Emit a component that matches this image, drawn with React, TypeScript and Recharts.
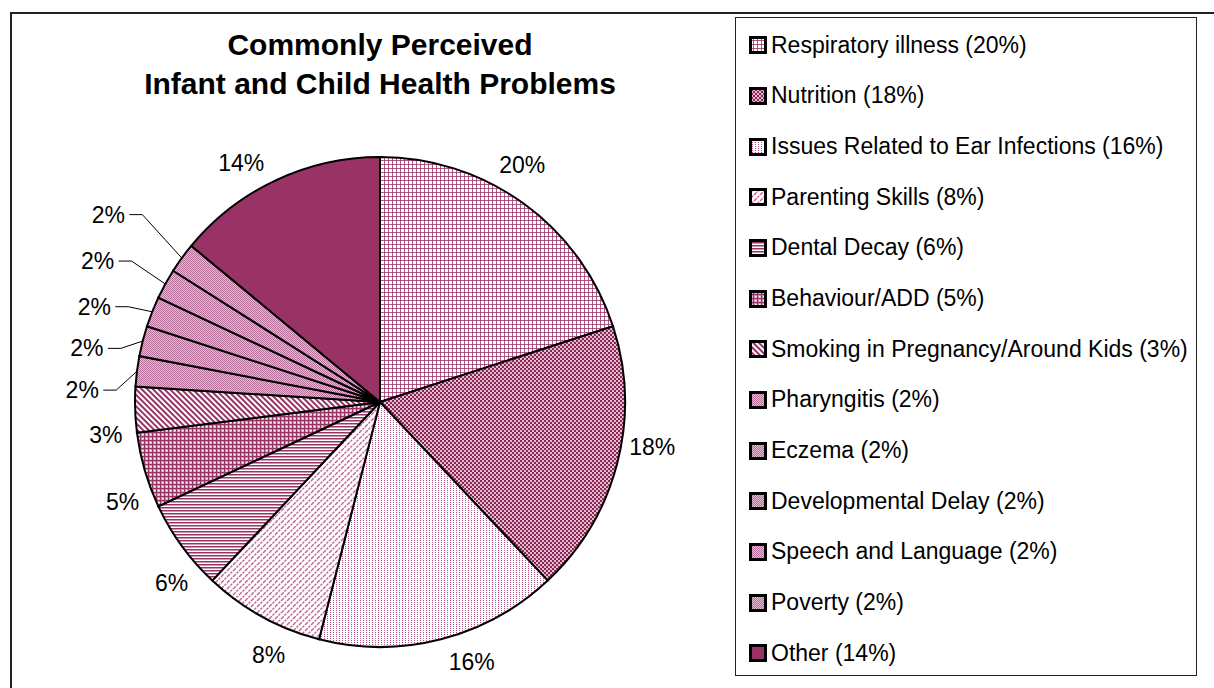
import React from "react";
import { PieChart, Pie, Cell, Legend } from "recharts";

const categories = [
  "Respiratory illness",
  "Nutrition",
  "Issues Related to Ear Infections",
  "Parenting Skills",
  "Dental Decay",
  "Behaviour/ADD",
  "Smoking in Pregnancy/Around Kids",
  "Pharyngitis",
  "Eczema",
  "Developmental Delay",
  "Speech and Language",
  "Poverty",
  "Other",
];
const shares = [20, 18, 16, 8, 6, 5, 3, 2, 2, 2, 2, 2, 14];
const fills = ["p0", "p1", "p2", "p3", "p4", "p5", "p6", "p7", "p7", "p7", "p7", "p7", "p8"];
const titleLines = ["Commonly Perceived", "Infant and Child Health Problems"];

const data = categories.map((name, i) => ({ name, value: shares[i] }));

const PLUM = "#993366";
const FONT = "'Liberation Sans', Arial, sans-serif";
const RADIAN = Math.PI / 180;

function Patterns() {
  return (
    <defs>
      <pattern id="p0" width="4" height="4" patternUnits="userSpaceOnUse">
        <rect width="4" height="4" fill="#fff" />
        <rect x="0" y="0" width="1" height="4" fill={PLUM} opacity="0.8" />
        <rect x="0" y="0" width="4" height="1" fill={PLUM} opacity="0.8" />
      </pattern>
      <pattern id="p1" width="4" height="4" patternUnits="userSpaceOnUse">
        <rect width="4" height="4" fill="#e4bcd0" />
        <rect x="0" y="0" width="2" height="2" fill="#8a2656" />
        <rect x="2" y="2" width="2" height="2" fill="#8a2656" />
      </pattern>
      <pattern id="p2" width="3" height="2" patternUnits="userSpaceOnUse">
        <rect width="3" height="2" fill="#fff" />
        <rect x="0" y="0" width="1" height="1" fill="#b04f80" />
      </pattern>
      <pattern id="p3" width="6" height="6" patternUnits="userSpaceOnUse">
        <rect width="6" height="6" fill="#fff" />
        <path d="M0,6 L6,0 M-1,1 L1,-1 M5,7 L7,5" stroke="#c0608f" strokeWidth="1.3" strokeDasharray="2.5 1" />
      </pattern>
      <pattern id="p4" width="3" height="3" patternUnits="userSpaceOnUse">
        <rect width="3" height="3" fill="#fff" />
        <rect x="0" y="0" width="3" height="1.5" fill={PLUM} />
      </pattern>
      <pattern id="p5" width="4" height="4" patternUnits="userSpaceOnUse">
        <rect width="4" height="4" fill="#c990b0" />
        <rect x="0" y="0" width="4" height="1" fill={PLUM} />
        <rect x="0" y="0" width="1" height="4" fill={PLUM} />
        <rect x="2" y="2" width="1.5" height="1.5" fill="#fff" />
      </pattern>
      <pattern id="p6" width="4" height="4" patternUnits="userSpaceOnUse" patternTransform="rotate(-45)">
        <rect width="4" height="4" fill="#fff" />
        <rect x="0" y="0" width="2" height="4" fill={PLUM} />
      </pattern>
      <pattern id="p7" width="2" height="2" patternUnits="userSpaceOnUse">
        <rect width="2" height="2" fill="#e2bcd2" />
        <rect x="0" y="0" width="1" height="1" fill="#b5709a" />
        <rect x="1" y="1" width="1" height="1" fill="#b5709a" />
      </pattern>
      <pattern id="p8" width="4" height="4" patternUnits="userSpaceOnUse">
        <rect width="4" height="4" fill={PLUM} />
      </pattern>
    </defs>
  );
}

function renderLabel(props: any) {
  const { cx, cy, midAngle, outerRadius, value, percent } = props;
  const small = percent < 0.025;
  const m = ((midAngle % 360) + 360) % 360;
  // small slices are stacked up the left side with leader lines
  const shift = small ? 1.4 + (m - 144) * 0.122 : 5;
  const rr = small ? outerRadius + 53 + Math.max(0, 160 - m) * 2 : outerRadius + 31;
  const ang = (m + shift) * RADIAN;
  const tx = cx + rr * Math.cos(ang);
  const ty = cy - rr * Math.sin(ang);
  const ex = cx + outerRadius * Math.cos(m * RADIAN);
  const ey = cy - outerRadius * Math.sin(m * RADIAN);
  return (
    <g>
      {small && (
        <polyline
          points={`${tx + 21},${ty} ${tx + 34},${ty} ${ex},${ey}`}
          fill="none"
          stroke="#000"
          strokeWidth={1}
        />
      )}
      <text
        x={tx}
        y={ty}
        textAnchor="middle"
        dominantBaseline="central"
        fontFamily={FONT}
        fontSize={23}
        fill="#000"
      >
        {`${value}%`}
      </text>
    </g>
  );
}

function renderLegend() {
  return (
    <div
      style={{
        boxSizing: "border-box",
        width: 462,
        height: 659,
        border: "1.5px solid #222",
        background: "#fff",
        paddingTop: 2,
      }}
    >
      {data.map((d, i) => (
        <div
          key={d.name}
          style={{
            display: "flex",
            alignItems: "center",
            height: 50.67,
            fontFamily: FONT,
            fontSize: 23,
            color: "#000",
            whiteSpace: "nowrap",
          }}
        >
          <svg width={18} height={18} style={{ marginLeft: 13, marginRight: 4 }}>
            <rect x={1.5} y={1.5} width={15} height={15} fill={`url(#${fills[i]})`} stroke="#000" strokeWidth={3} />
          </svg>
          <span>{`${d.name} (${d.value}%)`}</span>
        </div>
      ))}
    </div>
  );
}

export default function App() {
  return (
    <div
      style={{
        position: "fixed",
        left: 0,
        top: 0,
        width: 1214,
        height: 688,
        overflow: "hidden",
        background: "#fff",
      }}
    >
      <div
        style={{
          position: "absolute",
          left: 10,
          top: 12,
          width: 1230,
          height: 700,
          border: "2px solid #222",
          boxSizing: "border-box",
        }}
      />
      <div
        style={{
          position: "absolute",
          left: 0,
          top: 25,
          width: 760,
          textAlign: "center",
          fontFamily: FONT,
          fontWeight: "bold",
          fontSize: 30,
          lineHeight: "39px",
          color: "#000",
        }}
      >
        {titleLines.map((t) => (
          <div key={t}>{t}</div>
        ))}
      </div>
      <div style={{ position: "absolute", left: 0, top: 0 }}>
        <PieChart width={1214} height={688} margin={{ top: 0, right: 0, bottom: 0, left: 0 }}>
          <Patterns />
          <Pie
            data={data}
            dataKey="value"
            nameKey="name"
            cx={380}
            cy={402}
            outerRadius={245}
            startAngle={90}
            endAngle={-270}
            stroke="#000"
            strokeWidth={2}
            label={renderLabel}
            labelLine={false}
            isAnimationActive={false}
          >
            {data.map((d, i) => (
              <Cell key={d.name} fill={`url(#${fills[i]})`} />
            ))}
          </Pie>
          <Legend
            content={renderLegend}
            wrapperStyle={{ position: "absolute", left: 735, top: 17, width: 462, height: 659 }}
          />
        </PieChart>
      </div>
    </div>
  );
}
